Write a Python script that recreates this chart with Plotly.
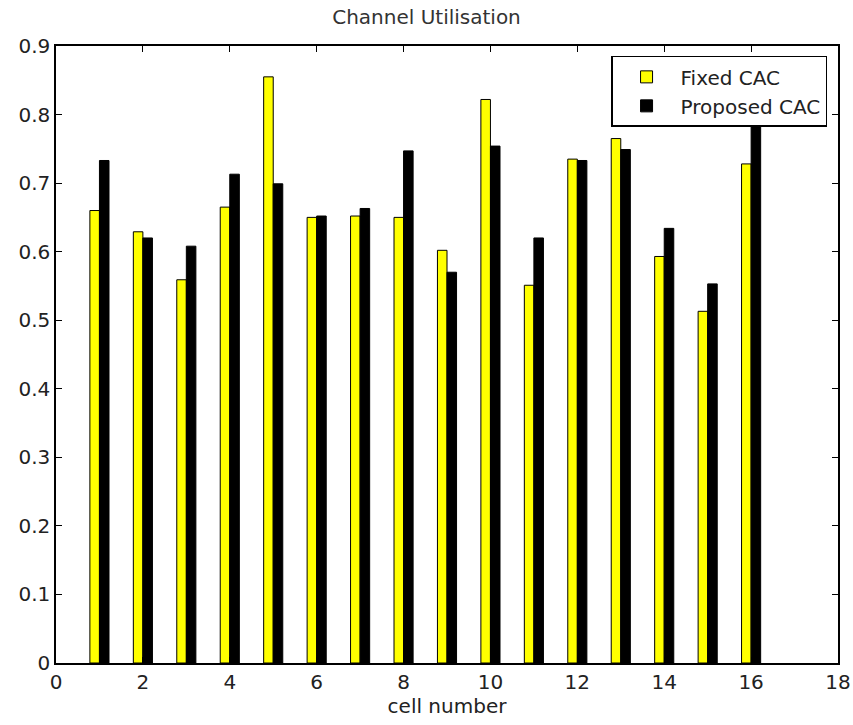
import plotly.graph_objects as go

cells = list(range(1, 17))
fixed_cac = [0.660, 0.629, 0.559, 0.665, 0.855, 0.650, 0.652, 0.650,
             0.602, 0.822, 0.551, 0.735, 0.765, 0.593, 0.513, 0.728]
proposed_cac = [0.733, 0.620, 0.608, 0.713, 0.699, 0.652, 0.663, 0.747,
                0.570, 0.754, 0.620, 0.733, 0.749, 0.634, 0.553, 0.810]
x_ticks = [0, 2, 4, 6, 8, 10, 12, 14, 16, 18]
y_ticks = [0, 0.1, 0.2, 0.3, 0.4, 0.5, 0.6, 0.7, 0.8, 0.9]
y_tick_labels = ["0", "0.1", "0.2", "0.3", "0.4", "0.5", "0.6", "0.7", "0.8", "0.9"]

FONT = "DejaVu Sans"

fig = go.Figure()
fig.add_trace(go.Bar(x=cells, y=fixed_cac, name="Fixed CAC",
                     marker=dict(color="#ffff00", line=dict(color="black", width=1))))
fig.add_trace(go.Bar(x=cells, y=proposed_cac, name="Proposed CAC",
                     marker=dict(color="black", line=dict(color="black", width=1))))

axis_common = dict(showline=True, linecolor="black", linewidth=1.5, mirror="ticks",
                   ticks="inside", ticklen=6, tickcolor="black", tickwidth=1,
                   showgrid=False, zeroline=False, automargin=False,
                   tickfont=dict(family=FONT, size=20, color="#222"))

fig.update_layout(
    width=853, height=725,
    paper_bgcolor="white", plot_bgcolor="white",
    margin=dict(l=56, r=15, t=46, b=62),
    barmode="group", bargap=0.56, bargroupgap=0,
    title=dict(text="Channel Utilisation", x=0.5, xanchor="center", y=0.976, yanchor="middle",
               font=dict(family=FONT, size=20, color="#333")),
    xaxis=dict(range=[0, 18], tickvals=x_ticks,
               title=dict(text="cell number", font=dict(family=FONT, size=20, color="#222"), standoff=4),
               **axis_common),
    yaxis=dict(range=[0, 0.9], tickvals=y_ticks, ticktext=y_tick_labels, **axis_common),
    legend=dict(x=0.986, y=0.984, xanchor="right", yanchor="top",
                bgcolor="white", bordercolor="black", borderwidth=1.5,
                font=dict(family=FONT, size=20, color="#222"),
                itemwidth=58, tracegroupgap=0),
    showlegend=True,
)

fig.write_html("out.html", post_script="document.body.style.margin='0';",
               config={"displayModeBar": False})
